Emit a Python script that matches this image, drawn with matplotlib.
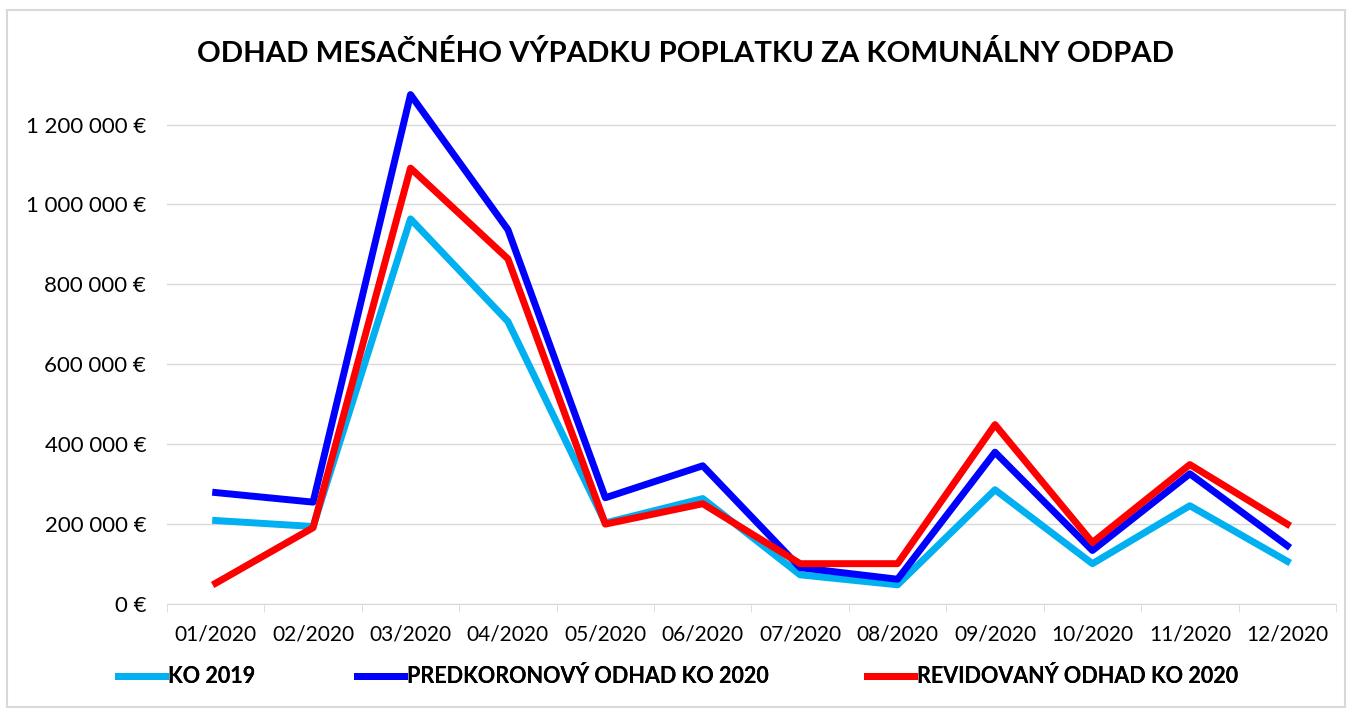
import numpy as np
import matplotlib
matplotlib.use("Agg")
from matplotlib import pyplot as plt
from matplotlib.patches import Rectangle
from matplotlib.ticker import FuncFormatter

months = ["01/2020", "02/2020", "03/2020", "04/2020", "05/2020", "06/2020",
          "07/2020", "08/2020", "09/2020", "10/2020", "11/2020", "12/2020"]

ko_2019 = [209000, 194000, 964000, 707000, 203000, 264000,
           73000, 48000, 286000, 101000, 246000, 107000]
predkoronovy = [279000, 255000, 1275000, 937000, 266000, 346000,
                91000, 62000, 380000, 134000, 326000, 146000]
revidovany = [52000, 191000, 1091000, 864000, 200000, 251000,
              101000, 101000, 449000, 154000, 349000, 200000]

series_names = ["KO 2019", "PREDKORONOVÝ ODHAD KO 2020", "REVIDOVANÝ ODHAD KO 2020"]
colors = ["#00b0f0", "#0000ff", "#ff0000"]

plt.rcParams["font.family"] = ["Lato", "DejaVu Sans"]

fig = plt.figure(figsize=(13.53, 7.16), dpi=100)
ax = fig.add_axes([0.1234, 0.1564, 0.8640, 0.7254])

x = np.arange(len(months)) + 0.5
lines = []
for vals, name, c in zip([ko_2019, predkoronovy, revidovany], series_names, colors):
    ln, = ax.plot(x, vals, color=c, lw=5, label=name)
    lines.append(ln)

ax.set_xlim(0, len(months))
ax.set_ylim(0, 1300000)
ax.set_yticks(np.arange(0, 1200001, 200000))

def euro(v, pos):
    s = f"{int(v):,}".replace(",", " ")
    return s + " €"

ax.yaxis.set_major_formatter(FuncFormatter(euro))
ax.set_xticks(x)
ax.set_xticklabels(months)
ax.set_xticks(np.arange(0, len(months) + 1), minor=True)
ax.tick_params(axis="x", which="major", length=0, pad=15, labelsize=15)
ax.tick_params(axis="x", which="minor", length=6, color="#d9d9d9", direction="out")
ax.tick_params(axis="y", length=0, pad=15, labelsize=16)

ax.grid(axis="y", color="#d9d9d9", lw=1)
ax.set_axisbelow(True)
for side in ["top", "right", "left"]:
    ax.spines[side].set_visible(False)
ax.spines["bottom"].set_color("#d9d9d9")

fig.text(0.5065, 0.925, "ODHAD MESAČNÉHO VÝPADKU POPLATKU ZA KOMUNÁLNY ODPAD",
         ha="center", va="center", fontsize=21.2, fontweight="bold")

# legend entries placed one by one
leg_x = [118 / 1353, 357 / 1353, 867 / 1353]
for ln, lx in zip(lines, leg_x):
    lg = fig.legend(handles=[ln], loc="center left", bbox_to_anchor=(lx, 0.055),
                    frameon=False, borderpad=0, borderaxespad=0,
                    handlelength=2.2, handletextpad=0.12,
                    prop={"weight": "bold", "size": 15.5})
    fig.add_artist(lg)

fig.add_artist(Rectangle((0.005, 0.013), 0.989, 0.973, transform=fig.transFigure,
                         fill=False, edgecolor="#d9d9d9", lw=1.5))

fig.savefig("out.png", dpi=100)
